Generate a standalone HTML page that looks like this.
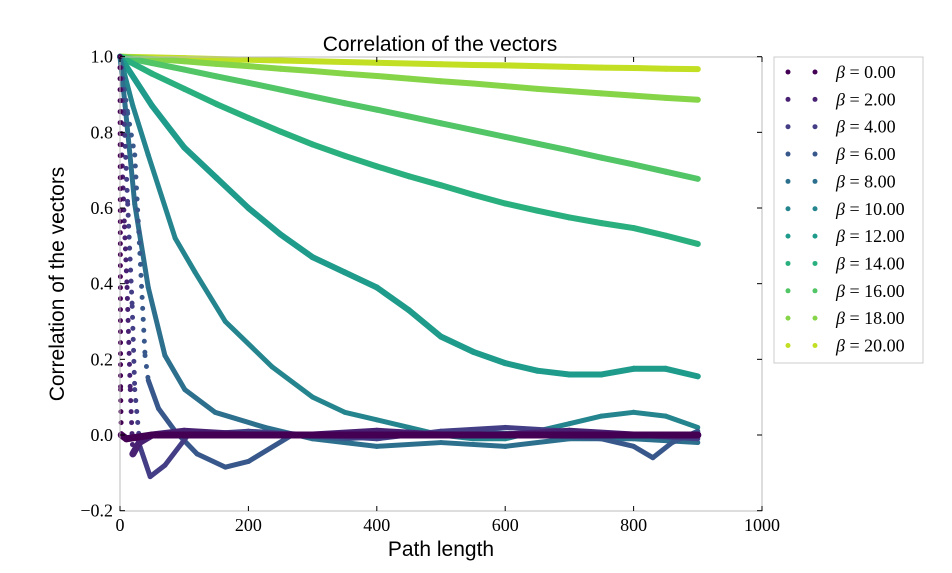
<!DOCTYPE html>
<html><head><meta charset="utf-8"><style>
body{margin:0;background:#fff;}
svg text{fill:#000;}
.tk{font-family:"Liberation Serif",serif;font-size:18px;}
.sn{font-family:"Liberation Sans",sans-serif;font-size:21px;}
</style></head><body>
<svg id="c" width="952" height="568" xmlns="http://www.w3.org/2000/svg">
<rect width="952" height="568" fill="#fff"/>
<text class="sn" x="440" y="51" text-anchor="middle">Correlation of the vectors</text>
<text class="sn" x="441" y="556" text-anchor="middle">Path length</text>
<text class="sn" x="64" y="284" text-anchor="middle" transform="rotate(-90 64 284)">Correlation of the vectors</text>
<g id="marks"></g>
<rect x="120" y="57" width="642" height="454" fill="none" stroke="#bbb" stroke-width="1"/>
<g id="axes"></g>
<g id="legend"></g>
</svg>
<script>
const xTicks=[0,200,400,600,800,1000];
const yTicks=[-0.2,0.0,0.2,0.4,0.6,0.8,1.0];
const betas=["0.00","2.00","4.00","6.00","8.00","10.00","12.00","14.00","16.00","18.00","20.00"];
const colors=["#440154","#482173","#433e85","#38588c","#2d708e","#25858e","#1e9b8a","#2ab07f","#52c566","#86d549","#c2df23"];
const xsSlow=[0,50,100,150,200,250,300,350,400,450,500,550,600,650,700,750,800,850,900];
const b20=[1,0.998,0.996,0.994,0.992,0.990,0.988,0.986,0.984,0.982,0.980,0.978,0.977,0.975,0.973,0.971,0.970,0.968,0.967];
const b18=[1,0.994,0.988,0.981,0.975,0.968,0.962,0.955,0.949,0.942,0.935,0.929,0.922,0.915,0.909,0.903,0.897,0.891,0.886];
const b16=[1,0.983,0.966,0.948,0.931,0.913,0.895,0.877,0.860,0.842,0.824,0.806,0.788,0.770,0.752,0.733,0.715,0.696,0.677];
const b14=[1,0.955,0.915,0.875,0.838,0.802,0.768,0.738,0.71,0.684,0.66,0.635,0.612,0.593,0.575,0.56,0.547,0.527,0.505];
const b12=[1,0.87,0.76,0.68,0.6,0.53,0.47,0.43,0.39,0.33,0.26,0.22,0.19,0.17,0.16,0.16,0.175,0.175,0.155];
const xs10=[0,20,44,86,117,164,237,300,350,400,450,500,550,600,650,700,750,800,850,900];
const b10=[1,0.87,0.74,0.52,0.43,0.30,0.18,0.10,0.06,0.04,0.02,0.0,-0.01,-0.01,0.01,0.03,0.05,0.06,0.05,0.02];
const xs8=[0,8,23,44,70,101,148,226,300,400,500,600,700,800,900];
const b8=[1,0.87,0.61,0.39,0.21,0.12,0.06,0.02,-0.01,-0.03,-0.02,-0.03,-0.01,-0.01,-0.02];
const xs6=[0,12,23,31,39,44,60,86,120,164,200,268,350,450,550,650,750,800,830,860,900];
const b6=[1,0.85,0.74,0.48,0.21,0.145,0.07,0.01,-0.05,-0.085,-0.07,0.0,-0.01,0.0,0.01,0.0,-0.01,-0.03,-0.06,-0.02,0.01];
const xs4=[0,6,12,19,23,31,47,70,106,200,300,400,500,600,700,800,900];
const b4=[1,0.85,0.61,0.34,0.12,-0.03,-0.11,-0.08,0.0,0.01,0.0,-0.01,0.01,0.02,0.01,0.0,-0.01];
const xs2=[0,3,7,11,16,20,30,50,100,200,300,400,500,600,700,800,900];
const b2=[1,0.74,0.55,0.39,0.12,-0.05,-0.02,0.0,0.01,0.0,0.0,0.01,0.0,0.0,0.01,0.0,0.0];
const xs0=[0,1,2,10,50,100,200,300,400,500,600,700,800,900];
const b0=[1,0.12,0.0,-0.01,0.0,0.0,0.0,0.0,0.0,0.0,0.0,0.0,0.0,0.0];
const seriesX=[xs0,xs2,xs4,xs6,xs8,xs10,xsSlow,xsSlow,xsSlow,xsSlow,xsSlow];
const seriesY=[b0,b2,b4,b6,b8,b10,b12,b14,b16,b18,b20];
const widths=[7,7,5,5,5,5,6,6,6,6,6];

const NS="http://www.w3.org/2000/svg";
const X=v=>120+v*0.642;
const Y=v=>435-v*378.33;
const marks=document.getElementById('marks');
for(let i=seriesY.length-1;i>=0;i--){
  const xs=seriesX[i],ys=seriesY[i];
  const g=document.createElementNS(NS,'g');
  
  
  for(let k=1;k<xs.length;k++){
    const x1=X(xs[k-1]),y1=Y(ys[k-1]),x2=X(xs[k]),y2=Y(ys[k]);
    const steep=i<=3&&Math.abs(y2-y1)>4*Math.abs(x2-x1)&&Math.abs(y2-y1)>20;
    const p=document.createElementNS(NS,'line');
    p.setAttribute('x1',x1);p.setAttribute('y1',y1);p.setAttribute('x2',x2);p.setAttribute('y2',y2);
    p.setAttribute('stroke',colors[i]);p.setAttribute('stroke-linecap','round');
    if(steep){p.setAttribute('stroke-width',5);p.setAttribute('stroke-dasharray','0 11');}
    else p.setAttribute('stroke-width',widths[i]);
    
    
    g.appendChild(p);
  }
  marks.appendChild(g);
}
const axes=document.getElementById('axes');
function ln(x1,y1,x2,y2){const l=document.createElementNS(NS,'line');l.setAttribute('x1',x1);l.setAttribute('y1',y1);l.setAttribute('x2',x2);l.setAttribute('y2',y2);l.setAttribute('stroke','#000');l.setAttribute('stroke-width',1);


axes.appendChild(l);}
function tx(x,y,s,a,name){const t=document.createElementNS(NS,'text');t.setAttribute('x',x);t.setAttribute('y',y);t.setAttribute('text-anchor',a);t.setAttribute('class','tk');t.textContent=s;


axes.appendChild(t);}
xTicks.forEach(v=>{const x=X(v);ln(x,511,x,506);ln(x,57,x,62);tx(x,531,String(v),'middle','x-tick-label');});
yTicks.forEach(v=>{const y=Y(v);ln(120,y,125,y);ln(762,y,757,y);tx(113,y+6,(v<0?'\u22120.2':v.toFixed(1)),'end','y-tick-label');});
const lg=document.getElementById('legend');
const box=document.createElementNS(NS,'rect');
box.setAttribute('x',774);box.setAttribute('y',57);box.setAttribute('width',149);box.setAttribute('height',306);box.setAttribute('fill','#fff');box.setAttribute('stroke','#ccc');


lg.appendChild(box);
betas.forEach((b,i)=>{
  const y=72+i*27.35;
  const g=document.createElementNS(NS,'g');
  
  
  [788,815].forEach(x=>{const c=document.createElementNS(NS,'circle');c.setAttribute('cx',x);c.setAttribute('cy',y);c.setAttribute('r',2.5);c.setAttribute('fill',colors[i]);g.appendChild(c);});
  const t=document.createElementNS(NS,'text');t.setAttribute('x',836);t.setAttribute('y',y+6);t.setAttribute('class','tk');
  t.innerHTML='<tspan font-style="italic">\u03b2</tspan> = '+b;
  g.appendChild(t);lg.appendChild(g);
});
</script>
</body></html>
